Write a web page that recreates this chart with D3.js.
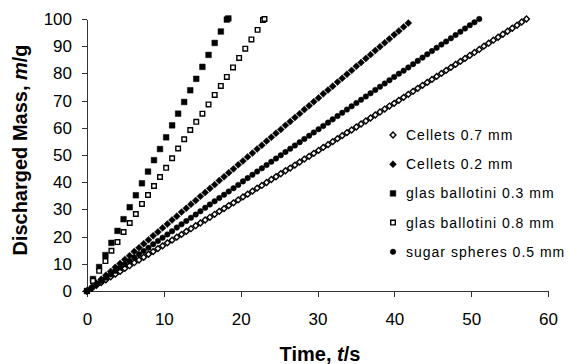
<!DOCTYPE html>
<html>
<head>
<meta charset="utf-8">
<script src="https://cdn.jsdelivr.net/npm/d3@7"></script>
<style>
    body { margin: 0; background: #fff; }
    svg { display: block; font-family: 'Liberation Sans', Arial, sans-serif; }
</style>
</head>
<body>
<div id="chart"></div>
<script>
// sample times (s) shared by the three slow series
const sampleTimes = [
    0, 0.62, 1.23, 1.85, 2.46, 3.08, 3.69, 4.31, 4.92, 5.54, 6.15, 6.77, 7.38, 8.0, 8.61, 9.23, 9.84, 10.46, 11.07, 11.69,
    12.3, 12.92, 13.53, 14.15, 14.76, 15.38, 15.99, 16.61, 17.22, 17.84, 18.45, 19.07, 19.68, 20.3, 20.91, 21.53, 22.14, 22.76, 23.37, 23.99,
    24.6, 25.22, 25.83, 26.45, 27.06, 27.68, 28.29, 28.91, 29.52, 30.14, 30.75, 31.37, 31.98, 32.6, 33.21, 33.83, 34.44, 35.06, 35.67, 36.29,
    36.9, 37.52, 38.13, 38.75, 39.36, 39.98, 40.59, 41.21, 41.82, 42.44, 43.05, 43.67, 44.28, 44.9, 45.51, 46.13, 46.74, 47.36, 47.97, 48.59,
    49.2, 49.82, 50.43, 51.05, 51.66, 52.28, 52.89, 53.51, 54.12, 54.74, 55.35, 55.97, 56.58, 57.2,
];

const cellets07 = [
    0, 1.0, 2.1, 3.1, 4.1, 5.2, 6.2, 7.2, 8.3, 9.3, 10.4, 11.4, 12.4, 13.5, 14.5, 15.6, 16.6, 17.7, 18.7, 19.8,
    20.8, 21.9, 22.9, 24.0, 25.0, 26.1, 27.1, 28.2, 29.3, 30.3, 31.4, 32.4, 33.5, 34.6, 35.6, 36.7, 37.8, 38.8, 39.9, 41.0,
    42.0, 43.1, 44.2, 45.2, 46.3, 47.4, 48.5, 49.5, 50.6, 51.7, 52.8, 53.8, 54.9, 56.0, 57.1, 58.2, 59.2, 60.3, 61.4, 62.5,
    63.6, 64.7, 65.8, 66.9, 68.0, 69.0, 70.1, 71.2, 72.3, 73.4, 74.5, 75.6, 76.7, 77.8, 78.9, 80.0, 81.1, 82.2, 83.3, 84.4,
    85.5, 86.6, 87.7, 88.8, 90.0, 91.1, 92.2, 93.3, 94.4, 95.5, 96.6, 97.7, 98.9, 100.0,
];

const cellets02 = [
    0, 1.4, 2.9, 4.3, 5.8, 7.2, 8.7, 10.1, 11.6, 13.0, 14.5, 15.9, 17.4, 18.8, 20.3, 21.7, 23.2, 24.6, 26.1, 27.5,
    29.0, 30.4, 31.9, 33.3, 34.8, 36.2, 37.7, 39.1, 40.6, 42.0, 43.5, 44.9, 46.4, 47.8, 49.3, 50.7, 52.2, 53.6, 55.1, 56.5,
    58.0, 59.4, 60.9, 62.3, 63.8, 65.2, 66.7, 68.1, 69.6, 71.0, 72.5, 73.9, 75.3, 76.8, 78.2, 79.7, 81.1, 82.6, 84.0, 85.5,
    86.9, 88.4, 89.8, 91.3, 92.7, 94.2, 95.6, 97.1, 98.5,
];

const sugar05 = [
    0, 1.2, 2.4, 3.7, 4.9, 6.1, 7.4, 8.6, 9.8, 11.0, 12.3, 13.5, 14.7, 15.9, 17.2, 18.4, 19.6, 20.8, 22.0, 23.3,
    24.5, 25.7, 26.9, 28.1, 29.3, 30.6, 31.8, 33.0, 34.2, 35.4, 36.6, 37.8, 39.0, 40.3, 41.5, 42.7, 43.9, 45.1, 46.3, 47.5,
    48.7, 49.9, 51.1, 52.3, 53.5, 54.7, 55.9, 57.1, 58.3, 59.5, 60.7, 61.9, 63.1, 64.3, 65.5, 66.7, 67.9, 69.1, 70.3, 71.5,
    72.7, 73.9, 75.1, 76.3, 77.5, 78.7, 79.9, 81.0, 82.2, 83.4, 84.6, 85.8, 87.0, 88.2, 89.4, 90.6, 91.7, 92.9, 94.1, 95.3,
    96.5, 97.7, 98.8, 100.0,
];

// glass beads were logged less often
const glas03Times = [
    0, 0.78, 1.58, 2.4, 3.18, 3.97, 4.76, 5.56, 6.36, 7.15, 7.94, 8.72, 9.5, 10.3, 11.08, 11.86, 12.65, 13.44, 14.22, 15.02,
    15.82, 16.62, 17.42, 18.2, 18.4,
];
const glas03 = [
    0, 4.4, 8.8, 13.2, 17.7, 22.1, 26.4, 30.8, 35.2, 39.6, 43.9, 48.1, 52.2, 56.5, 60.9, 65.2, 69.5, 73.8, 78.0, 82.4,
    86.8, 91.2, 95.4, 99.8, 100.2,
];

const glas08Times = [
    0, 0.78, 1.58, 2.4, 3.18, 3.97, 4.76, 5.56, 6.36, 7.15, 7.94, 8.72, 9.5, 10.3, 11.08, 11.86, 12.65, 13.44, 14.22, 15.02,
    15.82, 16.62, 17.42, 18.2, 19.0, 19.8, 20.6, 21.4, 22.2, 22.9, 23.1,
];
const glas08 = [
    0, 3.7, 7.4, 11.0, 14.8, 18.0, 21.7, 25.0, 28.3, 32.0, 35.3, 38.6, 41.9, 45.3, 48.8, 52.4, 55.8, 59.2, 62.2, 65.2,
    68.6, 72.1, 75.4, 78.7, 82.2, 85.7, 89.1, 92.5, 96.0, 99.6, 100.0,
];

const xTicks = [0, 10, 20, 30, 40, 50, 60];
const yTicks = [0, 10, 20, 30, 40, 50, 60, 70, 80, 90, 100];

const series = [
    { name: 'Cellets 0.7 mm', t: sampleTimes, m: cellets07, shape: 'diamond', filled: false },
    { name: 'Cellets 0.2 mm', t: sampleTimes, m: cellets02, shape: 'diamond', filled: true },
    { name: 'glas ballotini 0.3 mm', t: glas03Times, m: glas03, shape: 'square', filled: true },
    { name: 'glas ballotini 0.8 mm', t: glas08Times, m: glas08, shape: 'square', filled: false },
    { name: 'sugar spheres 0.5 mm', t: sampleTimes, m: sugar05, shape: 'circle', filled: true },
];

const width = 575;
const height = 364;
const margin = { top: 19, left: 87, bottom: 73, right: 27 };

const svg = d3
    .select('#chart')
    .append('svg')
    .attr('width', width)
    .attr('height', height);

const x = d3
    .scaleLinear()
    .domain([0, 60])
    .range([margin.left, width - margin.right]);
const y = d3
    .scaleLinear()
    .domain([0, 100])
    .range([height - margin.bottom, margin.top]);

const markerPath = (shape, filled) => {
    if (shape === 'circle') return d3.symbol(d3.symbolCircle, 24)();
    if (shape === 'diamond') return d3.symbol(d3.symbolSquare, filled ? 24 : 17)();
    return d3.symbol(d3.symbolSquare, filled ? 32 : 21)();
};

const drawMarker = (sel, s) => {
    sel.append('path')
        .attr('d', markerPath(s.shape, s.filled))
        .attr('transform', (d) => `translate(${d[0]},${d[1]})` + (s.shape === 'diamond' ? ' rotate(45)' : ''))
        .attr('fill', s.filled ? '#000' : '#fff')
        .attr('stroke', '#000')
        .attr('stroke-width', s.filled ? 0.5 : 1.4);
};

// axes
const xAxis = svg
    .append('g')
    .attr('transform', `translate(0,${y(0)})`)
    .call(d3.axisBottom(x).tickValues(xTicks).tickSizeInner(6).tickSizeOuter(0).tickPadding(16));
const yAxis = svg
    .append('g')
    .attr('transform', `translate(${x(0)},0)`)
    .call(d3.axisLeft(y).tickValues(yTicks).tickSizeInner(5).tickSizeOuter(0).tickPadding(10));

[xAxis, yAxis].forEach((a) => {
    a.selectAll('path, line').attr('stroke', '#333').attr('shape-rendering', 'crispEdges');
    a.selectAll('text').attr('font-size', 17).attr('fill', '#000').attr('font-family', null);
});

// points
series.forEach((s) => {
    const pts = s.m.map((m, i) => [x(s.t[i]), y(m)]);
    svg.append('g')
        .selectAll('g')
        .data(pts)
        .join('g')
        .call((g) => drawMarker(g, s));
});

// legend
const legend = svg.append('g').attr('transform', 'translate(393,135)');
series.forEach((s, i) => {
    const row = legend.append('g').attr('transform', `translate(0,${i * 29.2})`);
    row.selectAll('g').data([[0, 0]]).join('g').call((g) => drawMarker(g, s));
    row.append('text')
        .attr('x', 13)
        .attr('dy', '0.35em')
        .attr('font-size', 14)
        .attr('letter-spacing', 1)
        .text(s.name);
});

// axis titles
const xTitle = svg
    .append('text')
    .attr('x', 320)
    .attr('y', 361)
    .attr('text-anchor', 'middle')
    .attr('font-size', 20)
    .attr('font-weight', 'bold');
xTitle.append('tspan').text('Time, ');
xTitle.append('tspan').attr('font-style', 'italic').text('t');
xTitle.append('tspan').text('/s');

const yTitle = svg
    .append('text')
    .attr('transform', 'translate(27,150) rotate(-90)')
    .attr('text-anchor', 'middle')
    .attr('font-size', 20)
    .attr('font-weight', 'bold');
yTitle.append('tspan').text('Discharged Mass, ');
yTitle.append('tspan').attr('font-style', 'italic').text('m');
yTitle.append('tspan').text('/g');
</script>
</body>
</html>
